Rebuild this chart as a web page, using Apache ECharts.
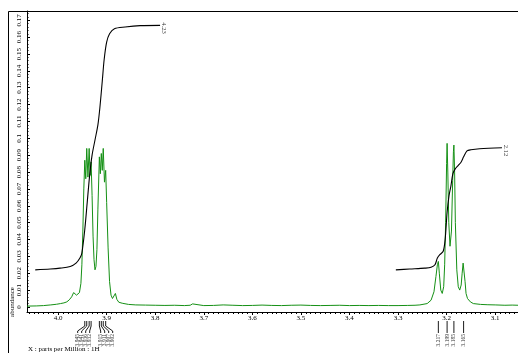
<!DOCTYPE html>
<html><head><meta charset="utf-8">
<script src="https://cdn.jsdelivr.net/npm/echarts@6/dist/echarts.min.js"></script>
<style>html,body{margin:0;padding:0;background:#fff}#c{width:518px;height:353px}</style>
</head><body><div id="c"></div>
<script>
// ---- tick labels ----
const ppmTicks = [4.0, 3.9, 3.8, 3.7, 3.6, 3.5, 3.4, 3.3, 3.2, 3.1];
const abundanceTicks = [0, 0.01, 0.02, 0.03, 0.04, 0.05, 0.06, 0.07, 0.08, 0.09, 0.1, 0.11, 0.12, 0.13, 0.14, 0.15, 0.16, 0.17];

// ---- spectrum (ppm, abundance) ----
const specPpm = [
  4.064, 4.045, 4.030, 4.015, 4.003, 3.995, 3.988, 3.982, 3.977, 3.972, 3.968, 3.965, 3.962, 3.959, 3.956,
  3.953, 3.951, 3.949, 3.947, 3.945, 3.943, 3.941, 3.9385, 3.936, 3.934, 3.932, 3.930, 3.928, 3.926, 3.924,
  3.922, 3.920, 3.918, 3.915, 3.913, 3.911, 3.909, 3.907, 3.9045, 3.902, 3.900, 3.897, 3.894, 3.891, 3.888,
  3.885, 3.882, 3.879, 3.875, 3.868, 3.855, 3.840, 3.820, 3.800, 3.780, 3.760, 3.740, 3.728, 3.723, 3.719,
  3.700, 3.680, 3.660, 3.640, 3.620, 3.600, 3.580, 3.560, 3.540, 3.520, 3.500, 3.480, 3.460, 3.440, 3.420,
  3.400, 3.380, 3.360, 3.340, 3.320, 3.300, 3.280, 3.265, 3.255, 3.240, 3.232, 3.226, 3.222, 3.219, 3.217,
  3.215, 3.212, 3.209, 3.206, 3.204, 3.202, 3.200, 3.199, 3.1975, 3.1955, 3.193, 3.192, 3.190, 3.1875, 3.186,
  3.185, 3.1835, 3.182, 3.179, 3.176, 3.173, 3.170, 3.168, 3.166, 3.165, 3.164, 3.162, 3.160, 3.157, 3.154,
  3.151, 3.145, 3.130, 3.115, 3.100, 3.080, 3.065, 3.053
];
const specAbund = [
  0.0005, 0.0006, 0.0008, 0.0012, 0.0016, 0.0020, 0.0024, 0.0030, 0.0042, 0.0060, 0.0085, 0.0095, 0.0070, 0.0075, 0.0085,
  0.014, 0.025, 0.045, 0.070, 0.087, 0.076, 0.094, 0.077, 0.094, 0.078, 0.086, 0.066, 0.042, 0.028, 0.022,
  0.024, 0.034, 0.058, 0.089, 0.079, 0.091, 0.081, 0.094, 0.074, 0.081, 0.062, 0.035, 0.015, 0.007, 0.005,
  0.0055, 0.008, 0.0045, 0.0028, 0.0022, 0.0015, 0.0012, 0.0011, 0.0010, 0.0009, 0.0010, 0.0008, 0.0010, 0.0018, 0.0010,
  0.0008, 0.0009, 0.0012, 0.0010, 0.0008, 0.0009, 0.0011, 0.0009, 0.0008, 0.0010, 0.0011, 0.0009, 0.0008, 0.0009, 0.0010,
  0.0008, 0.0009, 0.0008, 0.0009, 0.0008, 0.0008, 0.0009, 0.0010, 0.0012, 0.0020, 0.0040, 0.0090, 0.018, 0.025, 0.027,
  0.020, 0.010, 0.008, 0.012, 0.025, 0.050, 0.085, 0.097, 0.080, 0.050, 0.036, 0.035, 0.045, 0.075, 0.092,
  0.096, 0.080, 0.050, 0.022, 0.012, 0.010, 0.013, 0.020, 0.026, 0.027, 0.025, 0.015, 0.008, 0.005, 0.006,
  0.003, 0.002, 0.0015, 0.0013, 0.0012, 0.0010, 0.0011, 0.0010
];

// ---- integral curves ----
const integ1Ppm = [4.047, 4.016, 3.996, 3.975, 3.963, 3.955, 3.951, 3.945, 3.940, 3.935, 3.930, 3.924, 3.918, 3.914, 3.909, 3.905, 3.900, 3.894, 3.884, 3.862, 3.831, 3.790];
const integ1Val = [0.022, 0.0225, 0.023, 0.024, 0.026, 0.029, 0.032, 0.046, 0.062, 0.078, 0.090, 0.099, 0.108, 0.118, 0.134, 0.147, 0.157, 0.162, 0.165, 0.166, 0.1668, 0.167];
const integ2Ppm = [3.3045, 3.276, 3.245, 3.232, 3.224, 3.219, 3.214, 3.207, 3.203, 3.199, 3.195, 3.191, 3.187, 3.182, 3.176, 3.170, 3.165, 3.158, 3.150, 3.132, 3.086];
const integ2Val = [0.022, 0.0225, 0.023, 0.0235, 0.025, 0.029, 0.031, 0.033, 0.040, 0.056, 0.066, 0.072, 0.079, 0.082, 0.084, 0.086, 0.089, 0.0925, 0.0932, 0.0938, 0.0944];
const integralLabels = ['4.23', '2.12'];

// ---- peak picks ----
const peakGroupA = [3.945, 3.941, 3.936, 3.932];
const peakGroupB = [3.915, 3.911, 3.907, 3.902];
const peakGroupC = [3.217, 3.199, 3.185, 3.165];

const X_MIN = 3.053, X_MAX = 4.064, Y_MIN = -0.003, Y_MAX = 0.1755;
const FONT = 'Liberation Serif';

const zip = (a, b) => a.map((v, i) => [v, b[i]]);
const peaks = [];
[peakGroupA, peakGroupB, peakGroupC].forEach((g, gi) => g.forEach(p => peaks.push([p, gi])));

const minorX = [];
for (let k = 306; k <= 406; k++) minorX.push(k / 100);
const minorY = [];
for (let k = 0; k <= 87; k++) minorY.push(k * 0.002);

function layoutLabels(px, grp) {
  const n = px.length, off = [0];
  for (let i = 1; i < n; i++) off[i] = off[i - 1] + (grp[i] === grp[i - 1] ? 4 : 11);
  let cl = px.map((p, i) => ({ s: i, e: i, base: p }));
  let changed = true;
  while (changed) {
    changed = false;
    for (let j = 0; j < cl.length - 1; j++) {
      const a = cl[j], b = cl[j + 1];
      const lastA = a.base + off[a.e] - off[a.s];
      const need = off[b.s] - off[a.e];
      if (b.base - lastA < need - 1e-6) {
        const m = { s: a.s, e: b.e, base: 0 };
        let sum = 0;
        for (let k = m.s; k <= m.e; k++) sum += px[k] - (off[k] - off[m.s]);
        m.base = sum / (m.e - m.s + 1);
        cl.splice(j, 2, m);
        changed = true;
        break;
      }
    }
  }
  const out = [];
  cl.forEach(c => { for (let k = c.s; k <= c.e; k++) out[k] = c.base + off[k] - off[c.s]; });
  return out;
}

const chart = echarts.init(document.getElementById('c'), null, { renderer: 'canvas' });
const axisCommon = { type: 'value', min: X_MIN, max: X_MAX, inverse: true, splitLine: { show: false } };

chart.setOption({
  animation: false,
  backgroundColor: '#fff',
  grid: { left: 27, top: 11, right: 0, bottom: 41, containLabel: false },
  xAxis: [
    Object.assign({}, axisCommon, {
      position: 'bottom',
      axisLine: { show: true, onZero: false, lineStyle: { color: '#000', width: 1 } },
      axisTick: { show: true, customValues: ppmTicks, length: 3, lineStyle: { color: '#000' } },
      axisLabel: { customValues: ppmTicks, formatter: v => v.toFixed(1), fontFamily: FONT, fontSize: 7, color: '#000', margin: 3 }
    }),
    Object.assign({}, axisCommon, {
      position: 'bottom',
      axisLine: { show: false, onZero: false },
      axisTick: { show: true, customValues: minorX, length: 2, lineStyle: { color: '#000' } },
      axisLabel: { show: false }
    })
  ],
  yAxis: [
    {
      type: 'value', min: Y_MIN, max: Y_MAX, position: 'left', splitLine: { show: false },
      axisLine: { show: true, onZero: false, lineStyle: { color: '#000', width: 1 } },
      axisTick: { show: true, inside: true, customValues: abundanceTicks, length: 3, lineStyle: { color: '#000' } },
      axisLabel: { customValues: abundanceTicks, rotate: 90, formatter: v => (v === 0 ? '0' : String(+v.toFixed(2))), fontFamily: FONT, fontSize: 7, color: '#000', margin: 4 }
    },
    {
      type: 'value', min: Y_MIN, max: Y_MAX, position: 'left', splitLine: { show: false },
      axisLine: { show: false, onZero: false },
      axisTick: { show: true, inside: true, customValues: minorY, length: 1.5, lineStyle: { color: '#000' } },
      axisLabel: { show: false }
    }
  ],
  series: [
    {
      type: 'line', data: zip(specPpm, specAbund), showSymbol: false, smooth: false,
      lineStyle: { color: '#159015', width: 1 }, z: 3
    },
    {
      type: 'line', data: zip(integ1Ppm, integ1Val), showSymbol: false, smooth: 0.3,
      lineStyle: { color: '#000', width: 1.1 }, z: 4
    },
    {
      type: 'line', data: zip(integ2Ppm, integ2Val), showSymbol: false, smooth: 0.3,
      lineStyle: { color: '#000', width: 1.1 }, z: 4
    },
    {
      type: 'custom', clip: false, z: 5,
      data: [[integ1Ppm[integ1Ppm.length - 1], integ1Val[integ1Val.length - 1], 0],
             [integ2Ppm[integ2Ppm.length - 1], integ2Val[integ2Val.length - 1], 1]],
      renderItem: (params, api) => {
        const p = api.coord([api.value(0), api.value(1)]);
        return {
          type: 'text', x: p[0] + 4, y: p[1] - 3, rotation: -Math.PI / 2,
          style: { text: integralLabels[api.value(2)], font: '6.5px "Liberation Serif"', fill: '#333', align: 'left', verticalAlign: 'middle' }
        };
      }
    },
    {
      type: 'custom', clip: false, z: 5,
      data: peaks,
      renderItem: (params, api) => {
        const px = peaks.map(pk => api.coord([pk[0], 0])[0]);
        const order = px.map((v, i) => i).sort((a, b) => px[a] - px[b]);
        const sortedPx = order.map(i => px[i]);
        const sortedGrp = order.map(i => peaks[i][1]);
        const lab = layoutLabels(sortedPx, sortedGrp);
        const idx = params.dataIndex;
        const lx = lab[order.indexOf(idx)];
        const x = px[idx];
        const y0 = api.coord([X_MIN, Y_MIN])[1];
        return {
          type: 'group',
          children: [
            { type: 'polyline', shape: { points: [[x, y0 + 9], [x, y0 + 14], [lx, y0 + 19], [lx, y0 + 21]] },
              style: { stroke: '#000', lineWidth: 0.9, fill: null } },
            { type: 'text', x: lx, y: y0 + 22, rotation: Math.PI / 2,
              style: { text: peaks[idx][0].toFixed(3), font: '5.5px "Liberation Serif"', fill: '#333', align: 'right', verticalAlign: 'middle' } }
          ]
        };
      }
    }
  ],
  graphic: [
    { type: 'rect', shape: { x: 8.5, y: 11.5, width: 530, height: 360 }, style: { fill: null, stroke: '#000', lineWidth: 1 }, z: 10 },
    { type: 'text', x: 12, y: 302, rotation: Math.PI / 2, style: { text: 'abundance', font: '7px "Liberation Serif"', fill: '#000', align: 'center', verticalAlign: 'middle' } },
    { type: 'text', x: 28, y: 349, style: { text: 'X : parts per Million : 1H', font: '7px "Liberation Serif"', fill: '#000', align: 'left', verticalAlign: 'middle' } }
  ]
});
</script>
</body></html>
